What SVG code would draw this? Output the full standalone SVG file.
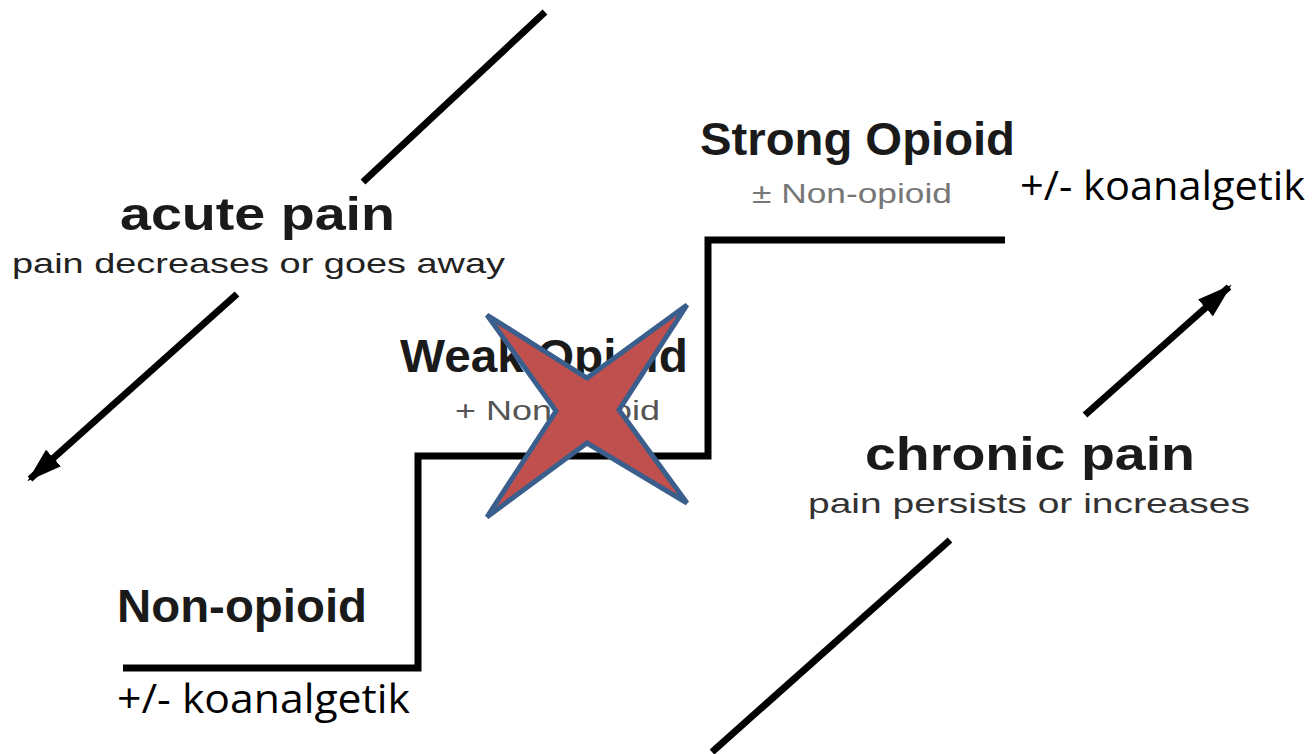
<svg xmlns="http://www.w3.org/2000/svg" width="1315" height="754" viewBox="0 0 1315 754">
<style>
.t{font-family:"Liberation Sans",Arial,sans-serif;fill:#1a1a1a}
.h{font-size:46px;font-weight:bold}
.s{font-size:28px;font-weight:normal}
.g{fill:#777}
.k{font-family:"Open Sans","Liberation Sans",sans-serif;font-size:40px;fill:#000}
.ar{stroke:#000;stroke-width:7;fill:none}
.st{stroke:#000;stroke-width:7;fill:none;stroke-linejoin:miter}
</style>
<defs>
<marker id="ah" viewBox="0 0 10 10" refX="9" refY="5" markerWidth="5" markerHeight="3.2" orient="auto" markerUnits="strokeWidth" preserveAspectRatio="none">
<path d="M0,0 L10,5 L0,10 z" fill="#000"/>
</marker>
</defs>
<rect width="1315" height="754" fill="#fff"/>
<g id="connectors">
<polyline id="stairs" class="st" points="123,668 418,668 418,456 708,456 708,240 1005,240"/>
<line class="ar" x1="545" y1="12" x2="363" y2="182"/>
<line class="ar" x1="237" y1="294" x2="30" y2="479" marker-end="url(#ah)"/>
<line class="ar" x1="1085" y1="415" x2="1229" y2="287" marker-end="url(#ah)"/>
<line class="ar" x1="950" y1="540" x2="712" y2="752"/>
</g>
<g id="acute">
<text class="t h" x="120" y="230" textLength="275" lengthAdjust="spacingAndGlyphs">acute pain</text>
<text class="t s" x="12" y="273" textLength="493" lengthAdjust="spacingAndGlyphs" style="fill:#222">pain decreases or goes away</text>
</g>
<g id="chronic">
<text class="t h" x="865" y="470" textLength="330" lengthAdjust="spacingAndGlyphs">chronic pain</text>
<text class="t s" x="808" y="513" textLength="442" lengthAdjust="spacingAndGlyphs" style="fill:#333">pain persists or increases</text>
</g>
<g id="nonopioid">
<text class="t h" x="117" y="622" textLength="250" lengthAdjust="spacingAndGlyphs">Non-opioid</text>
<text class="k" x="117" y="713" textLength="293" lengthAdjust="spacingAndGlyphs">+/- koanalgetik</text>
</g>
<g id="weak">
<text class="t h" x="400" y="372" textLength="288" lengthAdjust="spacingAndGlyphs">Weak Opioid</text>
<text class="t s" x="455" y="420" textLength="205" lengthAdjust="spacingAndGlyphs" style="fill:#555">+ Non-opioid</text>
</g>
<g id="strong">
<text class="t h" x="700" y="155" textLength="315" lengthAdjust="spacingAndGlyphs">Strong Opioid</text>
<text class="t s g" x="752" y="203" textLength="200" lengthAdjust="spacingAndGlyphs">± Non-opioid</text>
<text class="k" x="1020" y="200" textLength="285" lengthAdjust="spacingAndGlyphs">+/- koanalgetik</text>
</g>
<g id="cross">
<polygon points="487,315 587,378 687,305 619,410 687,503 587,443 487,517 556,411" fill="#C0504D" stroke="#3A5F8C" stroke-width="5" stroke-linejoin="miter"/>
</g>
</svg>
